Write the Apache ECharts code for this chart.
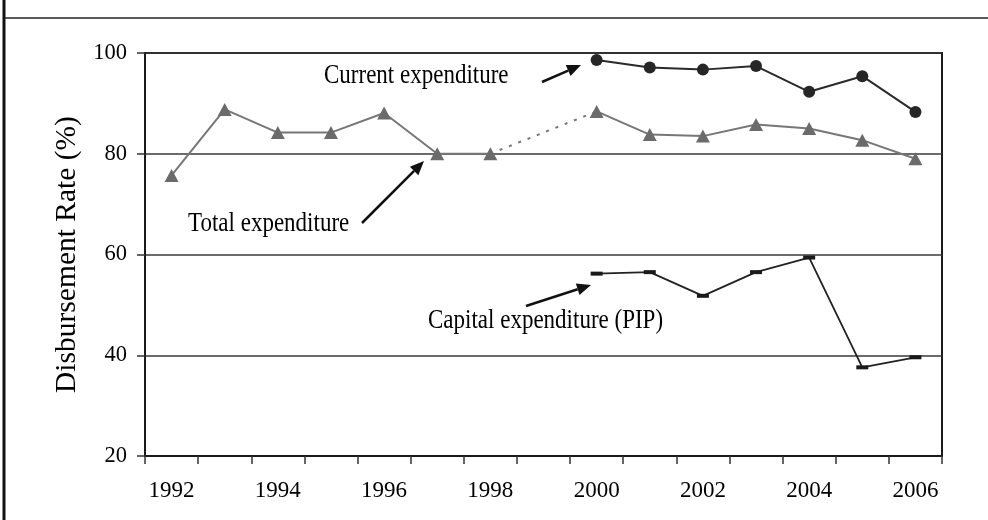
<!DOCTYPE html>
<html>
<head>
<meta charset="utf-8">
<script src="https://cdn.jsdelivr.net/npm/echarts@6/dist/echarts.min.js"></script>
<style>
  html, body { margin: 0; padding: 0; background: #fff; }
  #main { width: 988px; height: 520px; }
</style>
</head>
<body>
<div id="main"></div>
<script>
var years = ['1992', '1993', '1994', '1995', '1996', '1997', '1998', '1999',
             '2000', '2001', '2002', '2003', '2004', '2005', '2006'];
// total disbursement, no figure for 1999 (bridged by a dotted line)
var totalExp = [75.7, 88.8, 84.2, 84.2, 88.1, 80.0, 80.0, null,
                88.4, 83.8, 83.5, 85.8, 85.0, 82.7, 79.0];
var currentExp = [null, null, null, null, null, null, null, null,
                  98.6, 97.1, 96.7, 97.4, 92.3, 95.4, 88.3];
var capitalExp = [null, null, null, null, null, null, null, null,
                  56.2, 56.5, 51.8, 56.5, 59.4, 37.6, 39.6];
var yTicks = [20, 40, 60, 80, 100];

var serif = '"Liberation Serif", "DejaVu Serif", serif';

// dotted bridge over the missing year, taken from the total series
var gapIdx = years.indexOf('1999');
var totalBridge = totalExp.map(function (v, i) {
    return (i === gapIdx - 1 || i === gapIdx + 1) ? v : null;
});

function arrow(x1, y1, x2, y2) {
    var a = Math.atan2(y2 - y1, x2 - x1),
        len = 14, half = 6,
        bx = x2 - len * Math.cos(a), by = y2 - len * Math.sin(a);
    return {
        type: 'group',
        children: [
            { type: 'line', shape: { x1: x1, y1: y1, x2: bx, y2: by },
              style: { stroke: '#111', lineWidth: 2.5 } },
            { type: 'polygon',
              shape: { points: [
                  [x2, y2],
                  [bx + half * Math.sin(a), by - half * Math.cos(a)],
                  [bx - half * Math.sin(a), by + half * Math.cos(a)]
              ] },
              style: { fill: '#111' } }
        ]
    };
}

// the scanned labels are a little taller than wide, hence scaleY
function note(text, x, y) {
    return { type: 'text', x: x, y: y, scaleY: 1.15,
             style: { text: text, font: '23px ' + serif, fill: '#000',
                      verticalAlign: 'top' } };
}

var myChart = echarts.init(document.getElementById('main'));
var option = {
    backgroundColor: '#fff',
    animation: false,
    grid: {
        left: 145, right: 46, top: 53, bottom: 64,
        show: true, borderColor: '#1a1a1a', borderWidth: 2
    },
    xAxis: {
        type: 'category',
        data: years,
        boundaryGap: true,
        axisLine: { lineStyle: { color: '#1a1a1a', width: 2 } },
        axisTick: { show: true, interval: 0, length: 8, lineStyle: { color: '#333', width: 1.5 } },
        axisLabel: { interval: 1, margin: 23, fontFamily: serif, fontSize: 23, color: '#000' },
        splitLine: { show: false }
    },
    yAxis: {
        type: 'value',
        min: yTicks[0],
        max: yTicks[yTicks.length - 1],
        interval: 20,
        name: 'Disbursement Rate (%)',
        nameLocation: 'middle',
        nameGap: 61,
        nameTextStyle: { fontFamily: serif, fontSize: 29.5, color: '#000' },
        axisLine: { show: true, lineStyle: { color: '#1a1a1a', width: 2 } },
        axisTick: { show: true, length: 8, lineStyle: { color: '#333', width: 1.5 } },
        axisLabel: { margin: 18, fontFamily: serif, fontSize: 22.5, color: '#000' },
        splitLine: { show: true, lineStyle: { color: '#3a3a3a', width: 1.5 } }
    },
    series: [
        {
            name: 'Total bridge', type: 'line', data: totalBridge,
            connectNulls: true, symbol: 'none',
            lineStyle: { color: '#777', width: 2, type: [3, 7] }
        },
        {
            name: 'Total expenditure', type: 'line', data: totalExp,
            symbol: 'triangle', symbolSize: [14, 13],
            itemStyle: { color: '#6b6b6b' },
            lineStyle: { color: '#777', width: 2 }
        },
        {
            name: 'Current expenditure', type: 'line', data: currentExp,
            symbol: 'circle', symbolSize: 12,
            itemStyle: { color: '#262626' },
            lineStyle: { color: '#2a2a2a', width: 2 }
        },
        {
            name: 'Capital expenditure (PIP)', type: 'line', data: capitalExp,
            symbol: 'rect', symbolSize: [12, 4],
            itemStyle: { color: '#1a1a1a' },
            lineStyle: { color: '#222', width: 1.8 }
        }
    ],
    graphic: [
        // page frame left and rule along the top
        { type: 'line', shape: { x1: 4, y1: 0, x2: 4, y2: 520 },
          style: { stroke: '#111', lineWidth: 3 } },
        { type: 'line', shape: { x1: 4, y1: 18, x2: 988, y2: 18 },
          style: { stroke: '#222', lineWidth: 1.5 } },
        note('Current expenditure', 324, 63),
        arrow(542, 82, 581, 65),
        note('Total expenditure', 188, 211),
        arrow(362, 223, 424, 161),
        note('Capital expenditure (PIP)', 428, 308),
        arrow(526, 306, 591, 285)
    ]
};
myChart.setOption(option);
</script>
</body>
</html>
